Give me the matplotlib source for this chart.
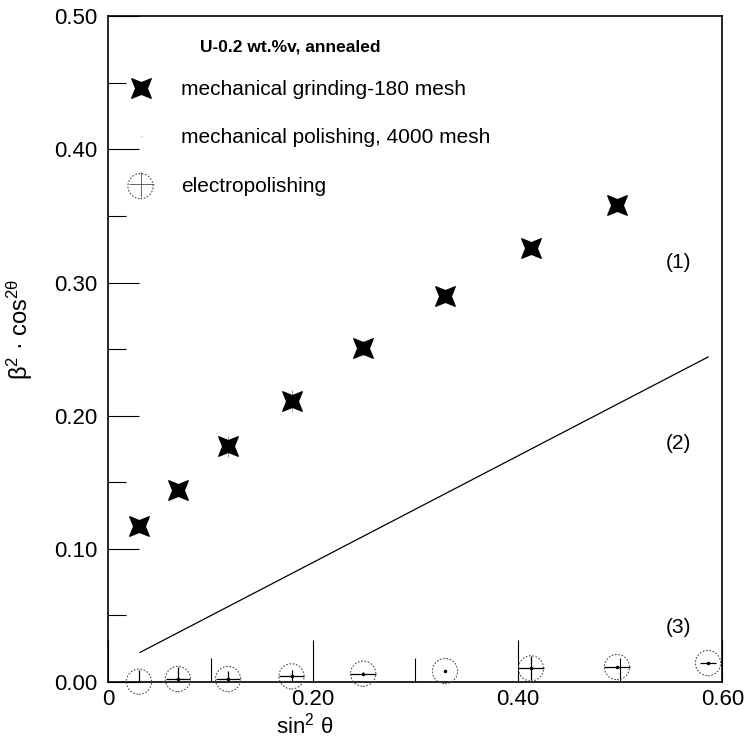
import numpy as np
import matplotlib
matplotlib.use("Agg")
import matplotlib.pyplot as plt
from matplotlib.path import Path
from matplotlib.lines import Line2D
from matplotlib.ticker import FixedLocator

plt.rcParams['font.family'] = ['Liberation Sans', 'DejaVu Sans']
plt.rcParams['mathtext.fontset'] = 'custom'
plt.rcParams['mathtext.rm'] = 'Liberation Sans'
plt.rcParams['mathtext.it'] = 'Liberation Sans'

# sin^2 theta of the measured peaks
sin2 = [0.030, 0.068, 0.117, 0.179, 0.249, 0.329, 0.413, 0.497, 0.586]

# (1) mechanical grinding-180 mesh
grind_x = sin2[:8]
grind_y = [0.117, 0.144, 0.177, 0.211, 0.251, 0.290, 0.326, 0.358]
grind_yerr = [0.003, 0.004, 0.008, 0.008, 0.006, 0.005, 0.003, 0.003]

# (2) mechanical polishing, 4000 mesh (fitted line)
polish_x = [0.031, 0.586]
polish_y = [0.022, 0.244]

# (3) electropolishing
electro_y = [0.000, 0.002, 0.002, 0.004, 0.006, 0.008, 0.010, 0.011, 0.014]
electro_xerr = [0.012, 0.012, 0.012, 0.012, 0.013, 0.0, 0.013, 0.013, 0.008]
electro_yerr = [0.009, 0.009, 0.006, 0.005, 0.001, 0.0, 0.009, 0.001, 0.0]

labels = ['mechanical grinding-180 mesh', 'mechanical polishing, 4000 mesh', 'electropolishing']

# four pointed star, points on the diagonals
ang = np.deg2rad(np.arange(8) * 45 + 45)
rad = np.where(np.arange(8) % 2 == 0, 1.0, 0.42)
verts = np.column_stack([rad * np.cos(ang), rad * np.sin(ang)])
verts = np.vstack([verts, verts[0]])
star = Path(verts, [Path.MOVETO] + [Path.LINETO] * 7 + [Path.CLOSEPOLY])

fig = plt.figure(figsize=(7.47, 7.45), dpi=100)
ax = fig.add_axes([0.145, 0.085, 0.822, 0.893])

ax.errorbar(grind_x, grind_y, yerr=grind_yerr, fmt='none', ecolor='0.55', elinewidth=0.6)
ax.plot(grind_x, grind_y, linestyle='none', marker=star, markersize=14, color='black')

ax.plot(polish_x, polish_y, color='black', lw=0.9)

ax.errorbar(sin2, electro_y, xerr=electro_xerr, yerr=electro_yerr, fmt='none',
            ecolor='black', elinewidth=0.9)
ax.plot(sin2, electro_y, linestyle='none', marker='.', markersize=3, color='black')
ax.scatter(sin2, electro_y, s=330, facecolors='none', edgecolors='0.3',
           linewidths=0.8, linestyle=(0, (1.5, 1.5)), zorder=3, clip_on=False)

ax.text(0.545, 0.315, '(1)', fontsize=15, va='center')
ax.text(0.545, 0.179, '(2)', fontsize=15, va='center')
ax.text(0.545, 0.041, '(3)', fontsize=15, va='center')

ax.text(0.09, 0.477, 'U-0.2 wt.%v, annealed', fontsize=12.5, fontweight='bold', va='center')

h1 = Line2D([], [], linestyle='none', marker=star, markersize=14, color='black')
h2 = Line2D([], [], linestyle='none', marker='.', markersize=1, color='0.85')
h3 = (ax.scatter([], [], s=330, facecolors='none', edgecolors='0.3', linewidths=0.8,
                 linestyle=(0, (1.5, 1.5))),
      Line2D([], [], linestyle='none', marker='+', markersize=18, color='0.3',
             markeredgewidth=0.6))
ax.legend([h1, h2, h3], labels, loc='upper left', bbox_to_anchor=(0.027, 0.904),
          frameon=False, fontsize=15, handlelength=1.5, handletextpad=1.2,
          labelspacing=1.4, borderpad=0, borderaxespad=0)

ax.set_xlim(0, 0.6)
ax.set_ylim(0, 0.5)
ax.xaxis.set_major_locator(FixedLocator([0, 0.2, 0.4, 0.6]))
ax.xaxis.set_minor_locator(FixedLocator([0.1, 0.3, 0.5]))
ax.yaxis.set_major_locator(FixedLocator([0, 0.1, 0.2, 0.3, 0.4, 0.5]))
ax.yaxis.set_minor_locator(FixedLocator([0.05, 0.15, 0.25, 0.35, 0.45]))
ax.set_xticklabels(['0', '0.20', '0.40', '0.60'])
ax.set_yticklabels(['0.00', '0.10', '0.20', '0.30', '0.40', '0.50'])
ax.tick_params(axis='x', which='major', direction='in', length=30, width=0.8, labelsize=16, pad=5)
ax.tick_params(axis='x', which='minor', direction='in', length=17, width=0.8)
ax.tick_params(axis='y', which='major', direction='in', length=22, width=0.8, labelsize=16, pad=8)
ax.tick_params(axis='y', which='minor', direction='in', length=13, width=0.8)
for s in ax.spines.values():
    s.set_linewidth(1.2)

ax.set_xlabel(r'sin$^{2}$ θ', fontsize=16)
ax.xaxis.set_label_coords(0.32, -0.047)
ax.set_ylabel(r'β$^{2}$ · cos$^{2θ}$', fontsize=17)
ax.yaxis.set_label_coords(-0.12, 0.53)

fig.savefig('out.png', dpi=100)
